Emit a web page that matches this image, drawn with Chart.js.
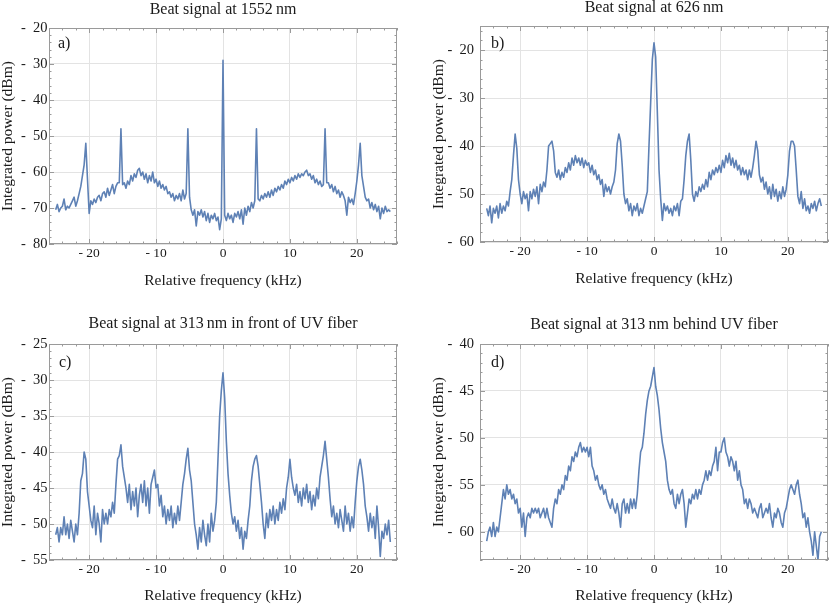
<!DOCTYPE html>
<html>
<head>
<meta charset="utf-8">
<script src="https://cdn.jsdelivr.net/npm/chart.js@4.4.1/dist/chart.umd.min.js"></script>
<style>
  html, body { margin: 0; padding: 0; background: #fff; }
  #wrap { position: relative; width: 830px; height: 606px; }
  .panel { position: absolute; }
  .panel canvas { display: block; }
</style>
</head>
<body>
<div id="wrap">
  <div class="panel" style="left:0;top:0"><canvas id="chartA" width="415" height="300"></canvas></div>
  <div class="panel" style="left:415px;top:0"><canvas id="chartB" width="415" height="300"></canvas></div>
  <div class="panel" style="left:0;top:300px"><canvas id="chartC" width="415" height="306"></canvas></div>
  <div class="panel" style="left:415px;top:300px"><canvas id="chartD" width="415" height="306"></canvas></div>
</div>
<script>
// relative frequency grid (kHz)
const freq = [
  -25,-24.75,-24.5,-24.25,-24,-23.75,-23.5,-23.25,-23,-22.75,
  -22.5,-22.25,-22,-21.75,-21.5,-21.25,-21,-20.75,-20.5,-20.25,
  -20,-19.75,-19.5,-19.25,-19,-18.75,-18.5,-18.25,-18,-17.75,
  -17.5,-17.25,-17,-16.75,-16.5,-16.25,-16,-15.75,-15.5,-15.25,
  -15,-14.75,-14.5,-14.25,-14,-13.75,-13.5,-13.25,-13,-12.75,
  -12.5,-12.25,-12,-11.75,-11.5,-11.25,-11,-10.75,-10.5,-10.25,
  -10,-9.75,-9.5,-9.25,-9,-8.75,-8.5,-8.25,-8,-7.75,
  -7.5,-7.25,-7,-6.75,-6.5,-6.25,-6,-5.75,-5.5,-5.25,
  -5,-4.75,-4.5,-4.25,-4,-3.75,-3.5,-3.25,-3,-2.75,
  -2.5,-2.25,-2,-1.75,-1.5,-1.25,-1,-0.75,-0.5,-0.25,
  0,0.25,0.5,0.75,1,1.25,1.5,1.75,2,2.25,
  2.5,2.75,3,3.25,3.5,3.75,4,4.25,4.5,4.75,
  5,5.25,5.5,5.75,6,6.25,6.5,6.75,7,7.25,
  7.5,7.75,8,8.25,8.5,8.75,9,9.25,9.5,9.75,
  10,10.25,10.5,10.75,11,11.25,11.5,11.75,12,12.25,
  12.5,12.75,13,13.25,13.5,13.75,14,14.25,14.5,14.75,
  15,15.25,15.5,15.75,16,16.25,16.5,16.75,17,17.25,
  17.5,17.75,18,18.25,18.5,18.75,19,19.25,19.5,19.75,
  20,20.25,20.5,20.75,21,21.25,21.5,21.75,22,22.25,
  22.5,22.75,23,23.25,23.5,23.75,24,24.25,24.5,24.75,
  25
];

// a) 1552 nm
const power1552 = [
  -70.5,-69,-71,-70,-69.5,-67.5,-70.5,-69.5,-70,-69,
  -68,-67,-69.5,-68,-66,-64,-61,-58,-52,-62,
  -71.5,-68,-69,-67.5,-68.5,-67,-66.5,-68,-66,-65.5,
  -67,-64.5,-66.5,-65,-63.5,-66,-64,-63,-63,-48,
  -63.5,-63,-64.5,-62.5,-63.5,-61,-62.5,-60.5,-61.5,-59.5,
  -59,-61,-60,-62,-60.5,-63,-61,-62.5,-60,-63,
  -62,-64,-62.5,-64.5,-63.5,-65,-64,-66,-65.5,-67,
  -66,-68,-66.5,-67.5,-66,-68,-65,-67.5,-66,-48,
  -67,-70.5,-72,-70.5,-75,-71,-72,-70.5,-72.5,-71,
  -73.5,-71.5,-74,-72,-73,-71.5,-73.5,-72.5,-76,-73,
  -29,-72,-73.5,-71.5,-73,-72,-74,-71.5,-72.5,-71,
  -73,-70.5,-74.5,-70,-72,-69.5,-71,-68.5,-70,-68,
  -48,-67.5,-68,-66.5,-67.5,-66,-67,-65.5,-67,-65,
  -66.5,-64.5,-65.5,-64,-65,-63.5,-64.5,-62.5,-63.5,-62,
  -63,-61.5,-62.5,-61,-62,-60.5,-61.5,-60.5,-61,-60,
  -59.5,-61,-60.5,-62,-61,-63,-62,-63.5,-62.5,-64,
  -63.5,-48,-63,-63,-64.5,-63.5,-65.5,-64,-66,-65,
  -67,-65.5,-66.5,-68,-72,-67,-68.5,-67.5,-69,-66,
  -62.5,-58,-52,-61,-64,-67,-68,-67.5,-70,-68.5,
  -70.5,-69,-71,-69.5,-73,-70,-71.5,-69.5,-71,-70.5,
  -71
];

// b) 626 nm
const power626 = [
  -53,-54.5,-52.5,-56,-53,-54,-52.5,-55,-52,-54,
  -52.5,-53.5,-51.5,-52.5,-49.5,-47,-42,-37.5,-40.5,-47,
  -50,-52,-49.5,-51,-50,-53.5,-49.5,-51,-49,-50.5,
  -48.5,-52,-48,-49.5,-47.5,-48.5,-45,-40,-39.5,-39,
  -41,-45.5,-46.5,-45,-47,-45.5,-46.5,-44.5,-45.5,-43.5,
  -45,-42.5,-44,-42,-43.5,-42.5,-44,-42.5,-44.5,-43,
  -44,-43.5,-45.5,-44,-46,-45,-47,-46,-48,-47,
  -50.5,-48,-49.5,-48.5,-50,-48.5,-47.5,-45,-39.5,-37.5,
  -39,-44,-50,-52,-51,-53.5,-52,-54.5,-52.5,-53.5,
  -52,-54.5,-53,-54,-52.5,-51,-49.5,-40,-31,-22,
  -18.5,-21.5,-33,-45,-51,-55.5,-52,-53.5,-52.5,-54,
  -53,-54.5,-52.5,-53.5,-52,-54.5,-51.5,-51,-47,-42,
  -39,-37.5,-43,-50,-51.5,-49.5,-50.5,-48.5,-49.5,-48,
  -49,-47,-48.5,-45.5,-47,-45,-46,-44.5,-45.5,-44,
  -45.5,-43,-44.5,-42,-43.5,-41.5,-44,-42.5,-44.5,-43,
  -45,-44,-46,-44.5,-46,-45,-47,-45,-46.5,-44.5,
  -42,-39,-41,-46,-47.5,-46.5,-49,-47.5,-50,-48.5,
  -51,-48,-50.5,-49,-51.5,-49.5,-51,-48.5,-50.5,-49,
  -46,-41,-39,-39,-40,-45,-50.5,-52,-49.5,-53,
  -51,-53.5,-52.5,-54,-52,-53,-51.5,-53.5,-52,-51,
  -52.5
];

// c) 313 nm in front of UV fiber
const power313Front = [
  -51.5,-50.5,-52.5,-50.5,-51.5,-49,-51.5,-50,-52,-49.5,
  -51,-52.5,-50,-51.5,-48.5,-44,-43,-40,-41,-45.5,
  -47.5,-49.5,-50.5,-47.5,-51.5,-48.5,-50,-52.5,-48,-50,
  -48.5,-50,-48,-49,-47,-48.5,-44.5,-41,-40.5,-39,
  -42,-43.5,-45,-47,-44.5,-48,-45.5,-47.5,-45,-49,
  -46,-44.5,-47,-44,-47.5,-45,-48.5,-44.5,-43.5,-42.5,
  -45,-44.5,-47.5,-46,-49,-47.5,-50,-48,-49.5,-47.5,
  -50.5,-48.5,-50,-47.5,-49.5,-47,-44.5,-43,-41,-39.5,
  -42.5,-44,-47,-50,-51.5,-53.5,-50.5,-52.5,-49.5,-51.5,
  -53,-50,-52.5,-48.5,-51,-49.5,-47,-41,-35,-31.5,
  -29,-32.5,-38.5,-43,-46,-48.5,-50,-49,-51,-49.5,
  -52,-50.5,-53.5,-51,-52,-49.5,-47.5,-44,-42,-41,
  -40.5,-42,-44.5,-47,-50,-52,-48.5,-50.5,-48,-49.5,
  -47.5,-50,-48,-49.5,-47,-48.5,-46.5,-48,-45,-43.5,
  -41,-43.5,-45,-46,-44.5,-47,-45.5,-47.5,-45,-46.5,
  -44.5,-47,-45.5,-48,-46,-47.5,-45,-46.5,-43.5,-42,
  -40.5,-38.5,-41,-43.5,-46.5,-49,-47.5,-50,-48.5,-50.5,
  -48,-49.5,-51,-47.5,-50,-48.5,-51,-49,-50.5,-47,
  -44,-42,-41,-42.5,-44.5,-47.5,-49,-51,-48.5,-50.5,
  -49,-52,-47.5,-50.5,-54.5,-51,-52,-50,-51.5,-49.5,
  -52.5
];

// d) 313 nm behind UV fiber
const power313Behind = [
  -61,-60,-59.5,-60.5,-59,-60.5,-59.5,-60,-58.5,-57,
  -55.5,-56.5,-55,-56,-55.5,-56.5,-56,-57,-56.5,-58,
  -57.5,-59.5,-58,-60.5,-58.5,-58,-58.5,-57.5,-58,-57.5,
  -58,-57.5,-58.5,-58,-57.5,-58.5,-57.5,-58.5,-59,-59.5,
  -57.5,-56.5,-57,-55.5,-56,-55,-55.5,-54,-54.5,-53,
  -53.5,-52,-52.5,-51.5,-52,-51,-50.5,-51.5,-51,-51.5,
  -51,-52,-51,-53,-53.5,-54.5,-54,-55,-55.5,-55,
  -56,-55.5,-56.5,-57,-57.5,-56.5,-57.5,-58,-57,-58,
  -59.5,-57,-56.5,-58,-57,-58,-56.5,-57.5,-56.5,-57.5,
  -56,-53.5,-51.5,-51,-49.5,-47.5,-46,-45,-44.5,-43.5,
  -42.5,-44.5,-45.5,-47,-49,-50.5,-51.5,-52.5,-54.5,-55.5,
  -56,-55.5,-57,-57.5,-56,-57,-56,-55.5,-57,-59.5,
  -58,-56.5,-57,-56,-56.5,-55.5,-56.5,-55.5,-56,-55,
  -54.5,-53.5,-54.5,-53.5,-54,-53,-52.5,-51,-53.5,-51.5,
  -51.5,-50.5,-50,-51.5,-52,-53,-52,-52.5,-53.5,-52.5,
  -54.5,-53.5,-55,-55.5,-57,-56.5,-57.5,-56.5,-57,-58,
  -57.5,-58,-58.5,-57.5,-57,-58.5,-58,-57.5,-58,-57,
  -58.5,-59.5,-58,-58.5,-57.5,-58,-59,-59.5,-58,-57.5,
  -56.5,-55.5,-55,-55.5,-56,-55,-54.5,-56,-57,-58.5,
  -58,-59.5,-58.5,-60,-61,-62.5,-60,-61.5,-63,-60.5,
  -60
];

const xTickValues = [-20, -10, 0, 10, 20];
const yTicks1552 = [-80, -70, -60, -50, -40, -30, -20];
const yTicks626 = [-60, -50, -40, -30, -20];
const yTicks313Front = [-55, -50, -45, -40, -35, -30, -25];
const yTicks313Behind = [-60, -55, -50, -45, -40];

const serif = "'Liberation Serif', 'DejaVu Serif', serif";
const textColor = '#1a1a1a';
const lineColor = '#5e81b5';
const gridColor = '#e3e3e3';
const frameColor = '#9a9a9a';

Chart.defaults.font.family = serif;
Chart.defaults.color = textColor;

// Mathematica-like frame with inward ticks on all four sides, plus the panel letter
const frameTicks = {
  id: 'frameTicks',
  afterDatasetsDraw(chart, args, opts) {
    const { ctx, chartArea: a, scales: { x, y } } = chart;
    ctx.save();
    ctx.strokeStyle = frameColor;
    ctx.lineWidth = 1;
    ctx.strokeRect(a.left + 0.5, a.top + 0.5, a.right - a.left - 1, a.bottom - a.top - 1);
    ctx.beginPath();
    for (let v = -26; v <= 26; v += 2) {
      const px = Math.round(x.getPixelForValue(v)) + 0.5;
      const len = v % 10 === 0 ? 5 : 2.5;
      ctx.moveTo(px, a.bottom); ctx.lineTo(px, a.bottom - len);
      ctx.moveTo(px, a.top); ctx.lineTo(px, a.top + len);
    }
    for (let v = Math.ceil(y.min / opts.minor) * opts.minor; v <= y.max; v += opts.minor) {
      const py = Math.round(y.getPixelForValue(v)) + 0.5;
      const len = opts.majors.includes(v) ? 5 : 2.5;
      ctx.moveTo(a.left, py); ctx.lineTo(a.left + len, py);
      ctx.moveTo(a.right, py); ctx.lineTo(a.right - len, py);
    }
    ctx.stroke();
    ctx.fillStyle = textColor;
    ctx.font = '16px ' + serif;
    ctx.textBaseline = 'middle';
    ctx.fillText(opts.label, a.left + opts.labelX, a.top + opts.labelY);
    ctx.restore();
  }
};

const fmtX = v => (v < 0 ? '- ' + Math.abs(v) : String(v));
const fmtY = v => (v < 0 ? '-\u2002' + Math.abs(v) : String(v));

function makeChart(canvasId, power, p) {
  return new Chart(document.getElementById(canvasId), {
    type: 'line',
    data: {
      datasets: [{
        data: freq.map((f, i) => ({ x: f, y: power[i] })),
        borderColor: lineColor,
        borderWidth: 1.6,
        borderJoinStyle: 'round',
        pointRadius: 0,
        tension: 0,
        fill: false
      }]
    },
    plugins: [frameTicks],
    options: {
      responsive: false,
      animation: false,
      layout: { padding: { left: p.padLeft, right: p.padRight, top: 0, bottom: 0 } },
      plugins: {
        legend: { display: false },
        tooltip: { enabled: false },
        title: {
          display: true,
          fullSize: false,
          text: p.title,
          color: textColor,
          font: { family: serif, size: 16, weight: 'normal', lineHeight: 1 },
          padding: { top: p.titleTop, bottom: p.titleBottom }
        },
        frameTicks: { label: p.label, labelX: p.labelX, labelY: p.labelY, minor: p.yMinor, majors: p.yTicks }
      },
      scales: {
        x: {
          type: 'linear',
          min: -26,
          max: 26,
          afterBuildTicks: s => { s.ticks = xTickValues.map(v => ({ value: v })); },
          afterFit: s => { s.height = p.xHeight; },
          grid: { color: gridColor, lineWidth: 1, drawTicks: false },
          border: { display: false },
          ticks: { padding: 1, maxRotation: 0, color: textColor, font: { size: 13.5 }, callback: fmtX },
          title: {
            display: true,
            text: 'Relative frequency (kHz)',
            color: textColor,
            font: { size: 15.5, lineHeight: 1 },
            padding: { top: 0, bottom: p.xTitleBottom }
          }
        },
        y: {
          type: 'linear',
          min: p.yMin,
          max: p.yMax,
          afterBuildTicks: s => { s.ticks = p.yTicks.map(v => ({ value: v })); },
          afterFit: s => { s.width = 49; },
          grid: { color: gridColor, lineWidth: 1, drawTicks: false },
          border: { display: false },
          ticks: { padding: p.yTickPad, color: textColor, font: { size: 14.5 }, callback: fmtY },
          title: {
            display: true,
            text: 'Integrated power (dBm)',
            color: textColor,
            font: { size: 15.5, lineHeight: 1 },
            padding: { top: 0.25, bottom: 0 }
          }
        }
      }
    }
  });
}

makeChart('chartA', power1552, {
  title: 'Beat signal at 1552\u2009nm', label: 'a)', labelX: 9, labelY: 16,
  yMin: -80, yMax: -20, yTicks: yTicks1552, yMinor: 2,
  padLeft: 0, padRight: 18, titleTop: 1.5, titleBottom: 10.5,
  xHeight: 56, xTitleBottom: 11.25, yTickPad: 1.5
});
makeChart('chartB', power626, {
  title: 'Beat signal at 626\u2009nm', label: 'b)', labelX: 11, labelY: 18,
  yMin: -60, yMax: -15, yTicks: yTicks626, yMinor: 2,
  padLeft: 16, padRight: 2, titleTop: 0, titleBottom: 10,
  xHeight: 58, xTitleBottom: 13.25, yTickPad: 6
});
makeChart('chartC', power313Front, {
  title: 'Beat signal at 313\u2009nm in front of UV fiber', label: 'c)', labelX: 10, labelY: 19,
  yMin: -55, yMax: -25, yTicks: yTicks313Front, yMinor: 1,
  padLeft: 0, padRight: 18, titleTop: 16, titleBottom: 12,
  xHeight: 46, xTitleBottom: 2.25, yTickPad: 1.5
});
makeChart('chartD', power313Behind, {
  title: 'Beat signal at 313\u2009nm behind UV fiber', label: 'd)', labelX: 11, labelY: 19,
  yMin: -63, yMax: -40, yTicks: yTicks313Behind, yMinor: 1,
  padLeft: 16, padRight: 2, titleTop: 16.5, titleBottom: 11.5,
  xHeight: 46, xTitleBottom: 2.25, yTickPad: 6
});
</script>
</body>
</html>
